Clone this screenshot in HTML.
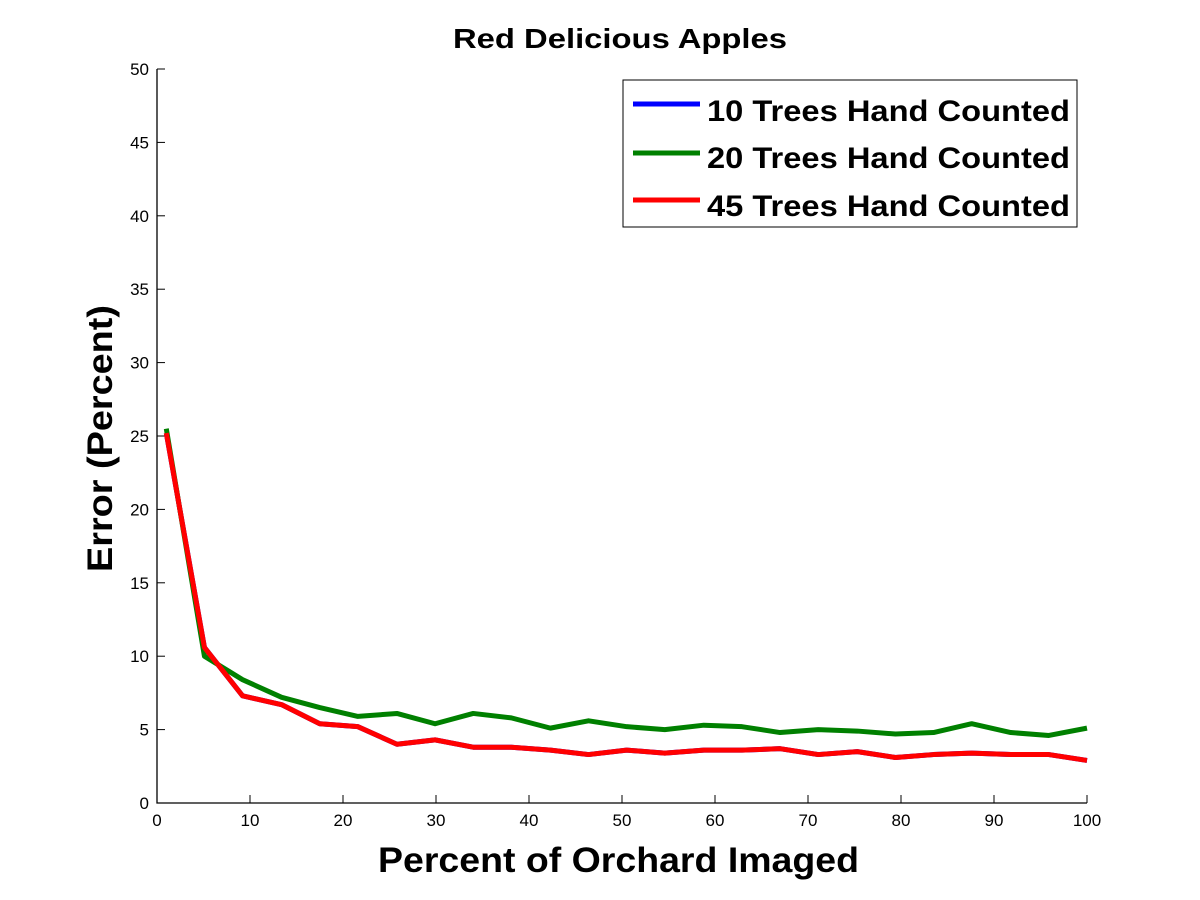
<!DOCTYPE html>
<html><head><meta charset="utf-8"><style>
body{margin:0;background:#fff;}
svg{display:block;font-family:"Liberation Sans",sans-serif;}
</style></head><body>
<svg id="chart" width="1200" height="900">
<rect width="1200" height="900" fill="#fff"/>
<text x="453" y="48" textLength="334" lengthAdjust="spacingAndGlyphs" font-size="28" font-weight="bold">Red Delicious Apples</text>
<text x="378" y="872" textLength="481" lengthAdjust="spacingAndGlyphs" font-size="35" font-weight="bold">Percent of Orchard Imaged</text>
<text transform="translate(112,572) rotate(-90)" textLength="267" lengthAdjust="spacingAndGlyphs" font-size="35" font-weight="bold">Error (Percent)</text>
<g id="axes"></g>
<g id="lines"></g>
<g>
<rect x="623" y="80" width="454" height="147" fill="#fff" stroke="#000" stroke-width="1"/>
<line x1="633" y1="104" x2="700" y2="104" stroke="#0000ff" stroke-width="5"/>
<text x="707" y="121" textLength="363" lengthAdjust="spacingAndGlyphs" font-size="30" font-weight="bold">10 Trees Hand Counted</text>
<line x1="633" y1="153" x2="700" y2="153" stroke="#008000" stroke-width="5"/>
<text x="707" y="168" textLength="363" lengthAdjust="spacingAndGlyphs" font-size="30" font-weight="bold">20 Trees Hand Counted</text>
<line x1="633" y1="200" x2="700" y2="200" stroke="#ff0000" stroke-width="5"/>
<text x="707" y="216" textLength="363" lengthAdjust="spacingAndGlyphs" font-size="30" font-weight="bold">45 Trees Hand Counted</text>
</g>
</svg>
<script>
const xTicks=[0,10,20,30,40,50,60,70,80,90,100];
const yTicks=[0,5,10,15,20,25,30,35,40,45,50];
const xVals=[1,5.1,9.2,13.4,17.5,21.6,25.8,29.9,34,38.1,42.3,46.4,50.5,54.6,58.8,62.9,67,71.1,75.3,79.4,83.5,87.6,91.8,95.9,100];
const green=[25.5,10,8.4,7.2,6.5,5.9,6.1,5.4,6.1,5.8,5.1,5.6,5.2,5.0,5.3,5.2,4.8,5.0,4.9,4.7,4.8,5.4,4.8,4.6,5.1];
const red=[25.2,10.6,7.3,6.7,5.4,5.2,4.0,4.3,3.8,3.8,3.6,3.3,3.6,3.4,3.6,3.6,3.7,3.3,3.5,3.1,3.3,3.4,3.3,3.3,2.9];
const blue=red.slice();
const X0=157,X1=1087,Y0=803,Y1=69;
const sx=v=>X0+(v-0)/100*(X1-X0);
const sy=v=>Y0-(v-0)/50*(Y0-Y1);
const NS="http://www.w3.org/2000/svg";
const axes=document.getElementById('axes');
function mk(t,a,p){const e=document.createElementNS(NS,t);for(const k in a)e.setAttribute(k,a[k]);p.appendChild(e);return e;}
const ax=mk('path',{d:`M${X0},${Y1}V${Y0}H${X1}`,fill:'none',stroke:'#000','stroke-width':1.3},axes);


xTicks.forEach(v=>{
 const l=mk('line',{x1:sx(v),x2:sx(v),y1:Y0,y2:Y0-8,stroke:'#000'},axes);
 
 
 const t=mk('text',{x:sx(v),y:Y0+23,'text-anchor':'middle','font-size':17},axes);
 t.textContent=v;
 
 
});
yTicks.forEach(v=>{
 const l=mk('line',{x1:X0,x2:X0+8,y1:sy(v),y2:sy(v),stroke:'#000'},axes);
 
 
 const t=mk('text',{x:X0-8,y:sy(v)+6,'text-anchor':'end','font-size':17},axes);
 t.textContent=v;
 
 
});
const lines=document.getElementById('lines');
[[blue,'#0000ff','series-10-trees'],[green,'#008000','series-20-trees'],[red,'#ff0000','series-45-trees']].forEach(([d,c,n])=>{
 const pts=d.map((v,i)=>sx(xVals[i])+','+sy(v)).join(' ');
 const p=mk('polyline',{points:pts,fill:'none',stroke:c,'stroke-width':5,'stroke-linejoin':'round'},lines);
 
 
});
</script>
</body></html>
